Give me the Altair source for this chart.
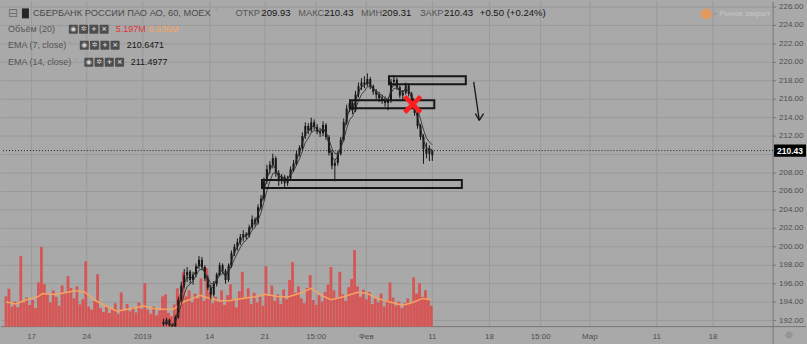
import altair as alt
import pandas as pd

# ------------------------------------------------------------------ data
# hourly candles (one drawn candle every 3 hourly bars)
candle_bar = list(range(160, 434, 3))
candle_open = [
    191.9, 191.6, 192.1, 191.5, 191.1, 192.4, 194.3, 195.8, 196.9, 197.3,
    196.4, 197.0, 197.9, 198.6, 197.8, 196.6, 195.6, 194.8, 196.0, 197.0,
    198.0, 197.4, 196.4, 197.9, 199.3, 200.0, 200.5, 201.1, 201.4, 201.2,
    202.1, 203.0, 202.6, 204.3, 205.2, 207.1, 208.4, 208.9, 209.6, 208.0,
    207.1, 207.6, 206.9, 207.4, 208.4, 209.0, 210.1, 210.7, 212.0, 213.1,
    212.6, 213.5, 213.0, 212.5, 212.3, 213.2, 211.9, 210.2, 208.8, 209.1,
    210.1, 211.6, 213.5, 215.0, 215.6, 214.8, 216.5, 217.4, 217.8, 217.6,
    218.2, 217.4, 216.8, 216.5, 216.1, 215.9, 215.6, 215.8, 217.9, 218.1,
    217.3, 216.4, 216.7, 217.5, 216.6, 215.7, 214.5, 213.1, 211.9, 210.6,
    210.1, 209.93]
candle_high = [
    192.2, 192.3, 192.2, 191.7, 192.6, 194.6, 196.2, 197.6, 197.8, 197.5,
    197.3, 198.2, 199.0, 198.9, 198.0, 196.9, 195.9, 196.3, 197.2, 198.3,
    198.2, 197.6, 198.2, 199.6, 200.3, 200.9, 201.4, 201.8, 201.6, 202.4,
    203.4, 203.2, 204.6, 205.6, 207.5, 208.9, 209.3, 210.1, 209.8, 208.3,
    207.9, 207.8, 207.7, 208.7, 209.4, 210.4, 211.0, 212.4, 213.5, 213.4,
    214.0, 213.8, 213.3, 212.9, 213.6, 213.4, 212.1, 210.5, 209.4, 210.4,
    211.9, 213.9, 215.4, 216.0, 215.8, 216.9, 217.8, 218.3, 218.5, 218.8,
    218.4, 217.6, 217.1, 216.8, 216.5, 216.3, 216.0, 218.2, 218.6, 218.3,
    217.5, 217.0, 217.8, 217.7, 216.8, 215.9, 214.7, 213.3, 212.2, 211.3,
    211.0, 210.43]
candle_low = [
    191.4, 191.5, 191.3, 190.9, 190.8, 192.2, 194.0, 195.5, 196.2, 196.0,
    195.9, 196.7, 197.6, 197.5, 196.3, 195.3, 194.3, 194.6, 195.7, 196.8,
    197.1, 196.0, 196.2, 197.7, 199.0, 199.6, 200.2, 200.6, 200.8, 201.0,
    201.9, 202.2, 202.4, 204.0, 205.0, 206.8, 207.9, 208.5, 207.6, 206.6,
    206.8, 206.4, 206.6, 207.2, 208.1, 208.8, 209.8, 210.4, 211.7, 212.2,
    212.4, 212.7, 212.2, 211.9, 212.0, 211.6, 209.9, 208.4, 207.1, 208.8,
    209.9, 211.4, 213.2, 214.6, 214.4, 214.6, 216.2, 217.0, 217.2, 217.4,
    217.1, 216.5, 216.0, 215.7, 215.5, 215.2, 214.8, 215.6, 217.4, 217.0,
    216.1, 215.9, 216.5, 216.3, 215.4, 214.2, 212.8, 211.6, 209.0, 209.6,
    209.3, 209.31]
candle_close = [
    191.6, 192.1, 191.5, 191.1, 192.4, 194.3, 195.8, 196.9, 197.3, 196.4,
    197.0, 197.9, 198.6, 197.8, 196.6, 195.6, 194.8, 196.0, 197.0, 198.0,
    197.4, 196.4, 197.9, 199.3, 200.0, 200.5, 201.1, 201.4, 201.2, 202.1,
    203.0, 202.6, 204.3, 205.2, 207.1, 208.4, 208.9, 209.6, 208.0, 207.1,
    207.6, 206.9, 207.4, 208.4, 209.0, 210.1, 210.7, 212.0, 213.1, 212.6,
    213.5, 213.0, 212.5, 212.3, 213.2, 211.9, 210.2, 208.8, 209.1, 210.1,
    211.6, 213.5, 215.0, 215.6, 214.8, 216.5, 217.4, 217.8, 217.6, 218.2,
    217.4, 216.8, 216.5, 216.1, 215.9, 215.6, 215.8, 217.9, 218.1, 217.3,
    216.4, 216.7, 217.5, 216.6, 215.7, 214.5, 213.1, 211.9, 210.6, 210.1,
    210.6, 210.43]

# volume (millions), one bar every 3 hourly bars
volume_bar = list(range(0, 435, 3))
volume_m = [
    7.5, 9.4, 5.0, 6.2, 4.8, 17.5, 6.0, 7.2, 5.4, 6.6,
    4.6, 11.0, 19.8, 10.5, 8.0, 6.0, 9.0, 7.4, 5.2, 10.2,
    8.5, 12.5, 9.6, 7.0, 10.0, 5.5, 6.8, 16.2, 5.0, 4.2,
    6.3, 13.0, 4.6, 3.6, 5.0, 3.4, 4.4, 5.8, 3.2, 8.5,
    4.0, 5.6, 3.8, 4.8, 3.5, 6.0, 4.4, 10.8, 4.2, 3.2,
    5.0, 2.8, 4.0, 7.5, 8.0, 3.4, 2.6, 5.5, 9.5, 8.0,
    13.5, 7.5, 9.0, 6.0, 8.2, 7.0, 12.0, 6.4, 14.5, 8.6,
    5.8, 7.4, 6.2, 9.0, 5.4, 7.8, 10.5, 6.8, 4.8, 8.8,
    13.6, 7.2, 9.5, 5.6, 8.4, 6.0, 7.4, 5.2, 15.0, 7.6,
    10.2, 6.4, 8.0, 5.6, 9.2, 6.8, 11.6, 16.0, 8.4, 10.0,
    7.0, 5.8, 9.6, 12.8, 6.6, 5.4, 7.8, 6.2, 8.6, 10.4,
    14.8, 9.0, 7.2, 13.6, 8.0, 6.4, 9.8, 11.8, 19.0, 10.0,
    7.4, 9.2, 6.8, 8.6, 5.6, 7.0, 6.0, 8.2, 5.0, 6.6,
    11.0, 7.2, 5.2, 6.2, 4.6, 5.8, 7.0, 6.0, 12.2, 8.2,
    10.8, 7.4, 9.0, 6.6, 5.197]

# volume moving average (20)
vol_ma_bar = [0, 10, 20, 33, 37, 50, 60, 70, 80, 90, 100, 113, 127, 140, 150,
              160, 170, 180, 190, 197, 207, 217, 227, 240, 253, 263, 277, 287,
              300, 310, 320, 330, 343, 357, 367, 377, 390, 403, 413, 423, 432]
vol_ma_m = [6.1, 5.6, 6.6, 7.5, 8.2, 8.0, 8.4, 8.9, 8.6, 6.6, 5.3, 3.8, 4.5, 5.1,
            4.5, 4.3, 4.3, 6.1, 7.0, 7.8, 7.0, 6.4, 6.4, 7.0, 7.4, 8.0, 7.4, 7.4,
            8.4, 9.5, 7.8, 6.7, 7.4, 8.5, 8.2, 7.0, 6.1, 5.3, 6.0, 7.0, 6.636]

# drawings
rect_bar_from = [389, 350, 260]
rect_bar_to = [467, 435, 463]
rect_price_top = [218.49, 215.89, 207.24]
rect_price_bottom = [217.62, 215.03, 206.38]
cross_bar = [413]
cross_price = [215.43]
arrow_bar_from = [475, 476.7, 485]
arrow_price_from = [217.87, 214.43, 214.43]
arrow_bar_to = [480.7, 480.7, 480.7]
arrow_price_to = [213.70, 213.70, 213.70]

time_tick_bar = [26, 82, 139, 207, 263, 315, 366, 433, 491, 543, 593, 661, 718]
time_tick_label = ["17", "24", "2019", "14", "21", "15:00", "Фев", "11", "18",
                   "15:00", "Мар", "11", "18"]
price_ticks = list(range(192, 228, 2))

# ------------------------------------------------------------------ style
BG = "#a9a9a9"
GRID = "#9a9a9a"
AXIS = "#767676"
LBL = "#4f4f4f"
INK = "#161616"
VOL = "#d65656"
ORANGE = "#f4a462"
FONT = "Liberation Sans"
SYM = "DejaVu Sans"

P_MIN, P_MAX = 191.35, 226.6
VOL_TOP = 80.7  # volume (M) that would reach the top of the pane
price_scale = alt.Scale(domain=[P_MIN, P_MAX], nice=False, zero=False)
x_scale = alt.Scale(domain=[0, 774], nice=False, zero=False)

X = lambda f: alt.X(f"{f}:Q", scale=x_scale, axis=None)
P = lambda f: alt.Y(f"{f}:Q", scale=price_scale, axis=None)

# ------------------------------------------------------------------ tables
candles = pd.DataFrame({"bar": candle_bar, "open": candle_open, "high": candle_high,
                        "low": candle_low, "close": candle_close})
closes = pd.Series(candle_close)
# hourly EMA(n) on candles that each span 3 hourly bars
ema_df = pd.DataFrame({
    "bar": candle_bar,
    "ema7": closes.ewm(alpha=1 - (1 - 2 / 8) ** 3, adjust=False).mean(),
    "ema14": closes.ewm(alpha=1 - (1 - 2 / 15) ** 3, adjust=False).mean(),
})
vol_df = pd.DataFrame({"bar": volume_bar, "vol": volume_m})
vol_ma_df = pd.DataFrame({"bar": vol_ma_bar, "ma": vol_ma_m})
rect_df = pd.DataFrame({"b1": rect_bar_from, "b2": rect_bar_to,
                        "p1": rect_price_top, "p2": rect_price_bottom})
cross_df = pd.DataFrame({"bar": cross_bar, "price": cross_price})
arrow_df = pd.DataFrame({"b1": arrow_bar_from, "p1": arrow_price_from,
                         "b2": arrow_bar_to, "p2": arrow_price_to})
last_price = candle_close[-1]
last_df = pd.DataFrame({"price": [last_price], "label": [f"{last_price:.2f}"]})
xtick_df = pd.DataFrame({"bar": time_tick_bar, "label": time_tick_label})
ytick_df = pd.DataFrame({"p": price_ticks, "label": [f"{p:.2f}" for p in price_ticks]})

# volume overlay pane placed at the bottom of the shared vertical range
to_pane = f"{P_MIN} + {{v}} * {(P_MAX - P_MIN) / VOL_TOP}"

# ------------------------------------------------------------------ grid and axes
grid_v = alt.Chart(xtick_df).mark_rule(color=GRID, strokeWidth=1).encode(x=X("bar"))
grid_h = alt.Chart(ytick_df).mark_rule(color=GRID, strokeWidth=1).encode(y=P("p"))
ytick_marks = alt.Chart(ytick_df).mark_rule(color=AXIS).encode(
    x=alt.value(774), x2=alt.value(777), y=P("p"))
# price labels hidden where the last-price marker sits on the scale
ytick_text = alt.Chart(ytick_df).transform_filter(
    f"abs(datum.p - {last_price}) > 0.8"
).mark_text(align="left", baseline="middle", fontSize=8, font=FONT, color=LBL).encode(
    x=alt.value(780), y=P("p"), text="label:N")
xtick_text = alt.Chart(xtick_df).mark_text(
    align="center", baseline="middle", fontSize=8, font=FONT, color=LBL).encode(
    x=X("bar"), y=alt.value(336), text="label:N")

# ------------------------------------------------------------------ data layers
vol_bars = alt.Chart(vol_df).transform_calculate(
    top=to_pane.format(v="datum.vol"), base=str(P_MIN)
).mark_bar(size=2.8, color=VOL).encode(x=X("bar"), y=P("top"), y2="base:Q")
vol_line = alt.Chart(vol_ma_df).transform_calculate(
    lvl=to_pane.format(v="datum.ma")
).mark_line(color=ORANGE, strokeWidth=1.5).encode(x=X("bar"), y=P("lvl"))

wicks = alt.Chart(candles).mark_rule(clip=True, color=INK, strokeWidth=1).encode(
    x=X("bar"), y=P("low"), y2="high:Q")
bodies = alt.Chart(candles).mark_bar(clip=True, size=2, color=INK).encode(
    x=X("bar"), y=P("open"), y2="close:Q")
ema7 = alt.Chart(ema_df).mark_line(color="#262626", strokeWidth=0.9, clip=True).encode(
    x=X("bar"), y=P("ema7"))
ema14 = alt.Chart(ema_df).mark_line(color="#333333", strokeWidth=0.9, clip=True).encode(
    x=X("bar"), y=P("ema14"))
rects = alt.Chart(rect_df).mark_rect(fill="transparent", stroke=INK, strokeWidth=2).encode(
    x=X("b1"), x2="b2:Q", y=P("p1"), y2="p2:Q")
arrow = alt.Chart(arrow_df).mark_rule(color=INK, strokeWidth=1.3).encode(
    x=X("b1"), x2="b2:Q", y=P("p1"), y2="p2:Q")
cross = alt.Chart(cross_df).mark_point(
    shape="M-1,-1L1,1M1,-1L-1,1", size=256, filled=False, stroke="#ff1e1e",
    strokeWidth=4.5, opacity=1).encode(x=X("bar"), y=P("price"))
last_line = alt.Chart(last_df).mark_rule(color="#222222", strokeWidth=1,
                                         strokeDash=[1, 2]).encode(y=P("price"))
last_box = alt.Chart(last_df).mark_point(
    shape="M0,-0.38L2,-0.38L2,0.38L0,0.38Z", size=1024, filled=True,
    color="#000000", opacity=1, strokeWidth=0).encode(x=alt.value(775), y=P("price"))
last_txt = alt.Chart(last_df).mark_text(
    color="#ffffff", fontSize=8.5, fontWeight="bold", font=FONT, align="center",
    baseline="middle").encode(x=alt.value(791), y=P("price"), text="label:N")

# ------------------------------------------------------------------ header / decorations
one = pd.DataFrame({"k": [0]})


def txt(s, px, py, size=9, color=LBL, align="left", font=FONT, weight="normal"):
    return alt.Chart(one).mark_text(
        text=s, align=align, baseline="middle", fontSize=size, color=color,
        font=font, fontWeight=weight).encode(x=alt.value(px), y=alt.value(py))


def box(x0, x1, y0, y1, color, **kw):
    return alt.Chart(one).mark_rect(color=color, **kw).encode(
        x=alt.value(x0), x2=alt.value(x1), y=alt.value(y0), y2=alt.value(y1))


frame = [
    alt.Chart(one).mark_rule(color=AXIS).encode(
        x=alt.value(774), y=alt.value(0), y2=alt.value(344)),
    alt.Chart(one).mark_rule(color=AXIS).encode(
        x=alt.value(0), x2=alt.value(807), y=alt.value(326)),
]

deco = []
deco.append(txt("⊟", 12, 12, size=12, color="#6e6e6e", align="center", font=SYM))
deco.append(box(21, 28, 7, 17, "#262626"))
deco.append(txt("СБЕРБАНК РОССИИ ПАО АО, 60, МОЕХ", 32, 12, size=9.3, color="#4a4a4a"))
deco.append(txt("˅", 214, 12, size=8, color="#8a8a8a", font=SYM))
for lab, lx, val, vx in [("ОТКР", 235, "209.93", 261), ("МАКС", 298, "210.43", 324),
                         ("МИН", 361, "209.31", 382), ("ЗАКР", 420, "210.43", 444)]:
    deco.append(txt(lab, lx, 12, size=9.3, color="#555555"))
    deco.append(txt(val, vx, 12, size=9.6, color=INK))
deco.append(txt("+0.50 (+0.24%)", 480, 12, size=9.6, color=INK))

rows = [("Объём (20)", 28, 57, 68), ("EMA (7, close)", 44, 68, 79),
        ("EMA (14, close)", 61, 73, 83.5)]
for name, yy, chev, icx in rows:
    deco.append(txt(name, 7, yy, size=9, color="#555555"))
    deco.append(txt("˅", chev, yy, size=7, color="#8a8a8a", font=SYM))
    for k, sym in enumerate(["◉", "✲", "+", "×"]):
        cx = icx + k * 10.3
        deco.append(box(cx, cx + 9, yy - 4.5, yy + 4.5, "#4e4e4e", cornerRadius=1))
        deco.append(txt(sym, cx + 4.5, yy, size=7, color="#d4d4d4", align="center",
                        font=SYM, weight="bold"))
deco.append(txt("5.197M", 115, 28, size=9, color="#e03535"))
deco.append(txt("6.636M", 148, 28, size=9, color=ORANGE))
deco.append(txt("210.6471", 126, 44, size=9, color=INK))
deco.append(txt("211.4977", 130, 61, size=9, color=INK))

deco.append(alt.Chart(one).mark_point(shape="circle", filled=True, size=120,
                                      color="#e4995c", opacity=1).encode(
    x=alt.value(707), y=alt.value(12.5)))
deco.append(alt.Chart(one).mark_point(shape="circle", filled=True, size=8,
                                      color="#9a9a9a", opacity=1).encode(
    x=alt.value(716), y=alt.value(12.5)))
deco.append(txt("Рынок закрыт", 720, 12.5, size=8, color="#c6c6c6"))
deco.append(txt("☼", 790, 335, size=11, color="#6c6c6c", align="center", font=SYM))

chart = alt.layer(
    grid_v, grid_h, *frame, ytick_marks, ytick_text, xtick_text,
    vol_bars, vol_line, wicks, bodies, ema7, ema14, rects, arrow, cross,
    last_line, last_box, last_txt, *deco
).properties(
    width=774, height=326, padding=0,
    autosize=alt.AutoSizeParams(type="pad"),
).configure(background=BG, font=FONT).configure_view(stroke=None)

chart.save("out.html", embed_options={"renderer": "svg", "actions": False})
